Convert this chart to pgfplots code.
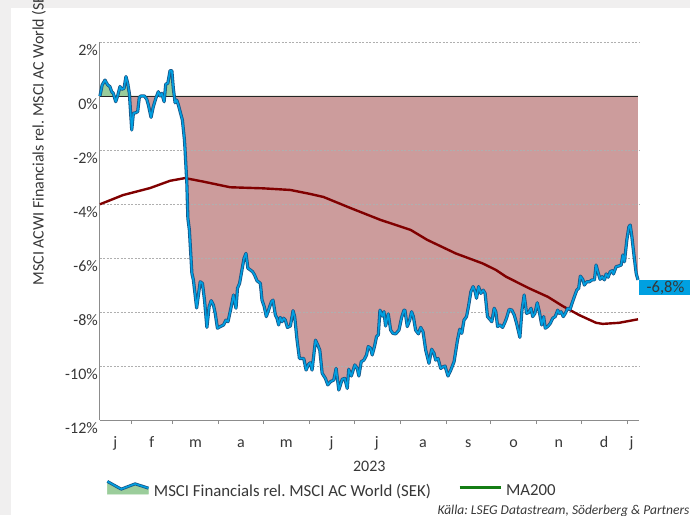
\documentclass[border=0pt]{standalone}
\usepackage{fontspec}
\setmainfont{Carlito}
\usepackage{pgfplots}
\pgfplotsset{compat=1.18}
\usepackage{pgfplotstable}
\frenchspacing

\definecolor{redfill}{RGB}{204,156,156}
\definecolor{greenfill}{RGB}{155,205,155}
\definecolor{lineblue}{RGB}{0,160,225}
\definecolor{lineedge}{RGB}{25,85,135}
\definecolor{mared}{RGB}{128,0,0}
\definecolor{legendgreen}{RGB}{20,125,20}
\definecolor{gridgray}{RGB}{175,175,175}
\definecolor{axisgray}{RGB}{140,140,140}
\definecolor{textgray}{RGB}{55,55,55}
\definecolor{bggray}{RGB}{240,239,239}

% relative performance, days since 1 Jan 2023
\pgfplotstableread{
day val
10.1 0.00
11.6 0.41
13.5 0.59
15.3 0.41
16.8 0.35
18.0 0.16
19.1 0.10
20.7 -0.21
22.0 0.00
23.6 0.35
24.7 0.25
26.3 0.28
27.6 0.72
28.8 0.47
29.9 0.10
31.5 -1.26
32.6 -0.64
34.2 -0.62
35.5 -0.58
36.6 -0.05
37.7 0.00
40.0 0.00
41.6 -0.12
42.7 -0.33
44.5 -0.79
46.0 -0.40
47.7 -0.09
49.4 0.16
50.6 0.00
51.7 0.10
53.3 -0.21
54.4 0.44
55.8 0.47
57.3 0.94
58.5 0.94
59.5 0.28
60.7 -0.25
61.8 -0.15
62.9 -0.33
64.1 -0.58
65.6 -0.89
67.0 -1.63
67.4 -2.00
68.6 -3.23
69.3 -4.53
70.3 -4.96
72.0 -6.57
73.0 -6.81
75.2 -7.85
77.6 -6.88
79.1 -6.94
80.5 -7.56
82.1 -8.57
83.6 -7.80
85.0 -7.58
86.5 -7.74
87.7 -8.05
89.2 -8.60
91.1 -8.54
93.3 -8.48
94.9 -8.30
96.3 -8.36
98.5 -7.80
100.0 -7.37
101.7 -7.86
102.7 -7.12
104.1 -6.94
105.7 -6.44
107.1 -6.01
108.4 -5.83
109.7 -6.38
111.3 -6.44
112.9 -6.51
114.2 -6.63
115.8 -6.84
118.1 -6.94
119.2 -7.56
120.7 -7.80
122.1 -8.17
123.6 -7.93
125.5 -7.62
126.6 -7.56
128.2 -8.11
129.3 -8.23
130.4 -8.48
131.5 -8.20
132.7 -8.36
133.8 -8.23
134.9 -8.30
136.3 -8.57
138.3 -8.52
140.1 -7.95
141.2 -8.17
142.8 -9.04
144.4 -9.72
147.3 -9.72
148.9 -10.15
150.6 -9.93
151.8 -9.88
152.9 -10.15
155.2 -9.04
156.7 -9.22
158.1 -9.41
159.7 -10.27
161.9 -10.46
163.5 -10.70
165.3 -10.58
167.5 -10.52
169.1 -10.09
170.9 -10.89
173.2 -10.49
174.9 -10.46
176.6 -10.83
177.6 -10.12
179.3 -10.37
181.7 -9.96
183.3 -10.09
184.4 -10.37
186.0 -9.84
187.8 -9.78
189.6 -9.59
190.7 -9.28
192.3 -9.34
193.4 -9.59
195.0 -9.26
196.3 -8.91
197.5 -8.85
198.6 -7.93
200.2 -8.15
201.3 -7.99
202.4 -8.52
204.2 -8.07
205.8 -8.67
207.3 -8.79
209.2 -8.81
211.4 -8.67
213.2 -8.20
214.8 -7.93
215.4 -7.93
217.0 -8.54
218.6 -8.30
219.9 -7.99
221.1 -8.17
222.6 -8.67
224.5 -8.81
226.0 -8.57
227.6 -8.73
229.4 -9.41
231.6 -9.90
233.4 -9.38
235.0 -9.53
236.1 -9.78
237.7 -9.72
239.5 -10.09
241.1 -10.03
242.4 -10.00
244.4 -10.37
246.3 -10.15
248.5 -9.84
250.8 -9.04
252.3 -8.64
253.7 -8.79
255.2 -8.30
256.9 -8.17
258.2 -7.80
259.8 -7.25
261.3 -7.06
262.7 -7.25
263.6 -7.49
265.0 -7.06
266.5 -7.31
268.1 -7.19
269.4 -7.31
271.0 -8.17
272.6 -8.27
273.9 -8.36
275.5 -7.86
276.6 -7.99
277.8 -8.54
279.3 -8.48
281.2 -8.57
282.9 -8.36
283.8 -8.23
285.6 -7.90
287.4 -7.93
289.0 -8.11
290.6 -8.42
292.8 -8.94
294.2 -7.93
295.7 -7.37
297.3 -8.05
298.7 -8.02
300.3 -7.86
301.4 -8.17
302.9 -8.05
304.5 -7.66
305.9 -7.99
307.5 -8.48
308.8 -8.17
309.9 -8.60
311.5 -8.54
313.3 -8.42
314.9 -8.23
316.6 -8.17
318.3 -7.93
319.3 -8.05
320.5 -7.99
322.0 -8.17
323.4 -8.05
325.0 -7.86
326.6 -7.90
327.9 -7.68
329.5 -7.43
331.1 -7.19
332.4 -7.12
333.5 -6.67
335.1 -6.79
336.2 -7.00
337.8 -6.88
339.6 -6.88
341.4 -6.81
343.0 -6.81
344.1 -6.26
345.3 -6.51
346.8 -6.79
348.2 -6.69
349.7 -6.81
350.9 -6.59
352.2 -6.71
353.6 -6.51
354.9 -6.47
355.8 -6.59
357.6 -6.32
359.2 -6.30
361.0 -6.26
362.1 -5.89
363.2 -6.14
364.8 -5.33
366.2 -4.84
367.1 -4.78
368.2 -5.21
369.6 -5.89
371.1 -6.57
372.3 -6.81
}\seriesdata

% MA200
\pgfplotstableread{
day ma
10.1 -4.01
25.6 -3.67
43.8 -3.41
57.3 -3.14
67.4 -3.04
79.6 -3.17
97.8 -3.38
120.1 -3.42
138.3 -3.48
151.8 -3.63
160.6 -3.74
178.8 -4.15
199.0 -4.59
219.3 -4.96
230.5 -5.33
249.6 -5.83
258.4 -6.01
267.7 -6.20
276.6 -6.44
283.4 -6.69
298.9 -7.12
311.7 -7.44
321.6 -7.78
332.6 -8.11
344.1 -8.40
348.6 -8.44
359.6 -8.40
372.3 -8.27
}\madata

\begin{document}
\begin{tikzpicture}[x=1pt,y=1pt]
% grey frame strips (left and top)
\fill[bggray] (0,0) rectangle (11,515);
\fill[bggray] (11,507) rectangle (690,515);

\begin{axis}[
    at={(99.5pt,95pt)}, anchor=south west,
    scale only axis, width=539.5pt, height=378pt,
    clip=false,
    xmin=9.8, xmax=373, ymin=-12, ymax=2,
    axis x line=bottom, axis y line=left,
    axis line style={-, axisgray, line width=0.8pt},
    ytick={-12,-10,...,2},
    yticklabels={-12\%,-10\%,-8\%,-6\%,-4\%,-2\%,0\%,2\%},
    ytick style={draw=none},
    xtick={31,59,90,120,151,181,212,243,273,304,334,365},
    xticklabels={},
    tick align=outside,
    major tick length=4pt,
    xtick style={axisgray, line width=0.6pt},
    extra x ticks={20.4,45,74.5,105,135.5,166,196.5,227.5,258,288.5,319,349.5,368},
    extra x tick labels={j,f,m,a,m,j,j,a,s,o,n,d,j},
    extra x tick style={major tick length=0pt},
    tick label style={font=\fontsize{16}{19}\selectfont, text=textgray},
    xticklabel style={anchor=base, inner sep=0pt, yshift=-27pt},
    yticklabel style={anchor=north east, inner sep=0pt, xshift=2.5pt, yshift=-2pt},
    xlabel={2023},
    xlabel style={at={(axis description cs:0.5,-0.122)}, anchor=center,
        font=\fontsize{16}{19}\selectfont, text=textgray},
    legend columns=2,
    legend style={at={(axis description cs:0.0115,-0.1825)}, anchor=west,
        draw=none, fill=none, inner sep=0pt,
        font=\fontsize{16.8}{20}\selectfont, text=textgray,
        nodes={inner sep=0pt},
        /tikz/every odd column/.append style={column sep=4pt},
        /tikz/every even column/.append style={column sep=27pt}},
    legend cell align=left,
]
% shaded area between the series and zero: red everywhere, green over the positive part
\addplot[fill=redfill, draw=none, forget plot] table[x=day,y=val] {\seriesdata} \closedcycle;
\addplot[fill=greenfill, draw=none, forget plot,
    y filter/.expression={max(y,0)}] table[x=day,y=val] {\seriesdata} \closedcycle;

% dashed grid over the fill
\addplot[gridgray, dash pattern=on 2pt off 1.5pt, line width=0.5pt, forget plot] coordinates {(9.8,2) (373,2)};
\addplot[gridgray, dash pattern=on 2pt off 1.5pt, line width=0.5pt, forget plot] coordinates {(9.8,-2) (373,-2)};
\addplot[gridgray, dash pattern=on 2pt off 1.5pt, line width=0.5pt, forget plot] coordinates {(9.8,-4) (373,-4)};
\addplot[gridgray, dash pattern=on 2pt off 1.5pt, line width=0.5pt, forget plot] coordinates {(9.8,-6) (373,-6)};
\addplot[gridgray, dash pattern=on 2pt off 1.5pt, line width=0.5pt, forget plot] coordinates {(9.8,-8) (373,-8)};
\addplot[gridgray, dash pattern=on 2pt off 1.5pt, line width=0.5pt, forget plot] coordinates {(9.8,-10) (373,-10)};

\addplot[black!85, line width=0.9pt, forget plot] coordinates {(9.8,0) (372.3,0)};
\addplot[mared, line width=2.4pt, line join=round, forget plot] table[x=day,y=ma] {\madata};
\addplot[lineedge, line width=3.2pt, line join=round, forget plot] table[x=day,y=val] {\seriesdata};
\addplot[lineblue, line width=1.6pt, line join=round, forget plot] table[x=day,y=val] {\seriesdata};

\addlegendimage{legend image code/.code={
    \fill[greenfill] (0pt,-3pt) -- (0pt,9.7pt) -- (13.8pt,2pt) -- (27.7pt,7.3pt)
        -- (41pt,3pt) -- (41pt,-3pt) -- cycle;
    \draw[lineedge, line width=3pt, line join=round] (0pt,9.7pt) -- (13.8pt,2pt)
        -- (27.7pt,7.3pt) -- (41pt,3pt);
    \draw[lineblue, line width=1.5pt, line join=round] (0pt,9.7pt) -- (13.8pt,2pt)
        -- (27.7pt,7.3pt) -- (41pt,3pt);}}
\addlegendentry{MSCI Financials rel. MSCI AC World (SEK)}
\addlegendimage{legend image code/.code={
    \draw[legendgreen, line width=3pt] (0pt,4pt) -- (41pt,4pt);}}
\addlegendentry{MA200}

\node[fill=lineblue, text=textgray, font=\fontsize{16.5}{19}\selectfont,
    anchor=north west, minimum height=15.5pt, inner xsep=8pt, inner ysep=0pt]
    at (axis cs:372.6,-6.8) {-6,8\%};
\end{axis}

\node[rotate=90, anchor=base west, font=\fontsize{16}{19}\selectfont, text=textgray]
    at (43.5,226) {MSCI ACWI Financials rel. MSCI AC World (SEK)};
\node[anchor=base west, font=\itshape\fontsize{13.5}{16}\selectfont, text=textgray]
    at (434,1) {Källa: LSEG Datastream, Söderberg \& Partners};
\pgfresetboundingbox
\path[use as bounding box] (0,0) rectangle (690,515);
\end{tikzpicture}
\end{document}
